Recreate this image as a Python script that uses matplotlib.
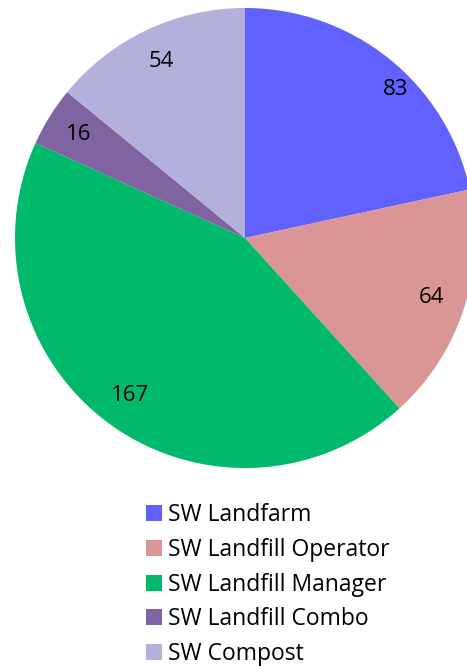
import matplotlib
matplotlib.use("Agg")
import matplotlib.pyplot as plt
import numpy as np

plt.rcParams['font.family'] = ['Open Sans', 'DejaVu Sans']

labels = ['SW Landfarm', 'SW Landfill Operator', 'SW Landfill Manager',
          'SW Landfill Combo', 'SW Compost']
values = [83, 64, 167, 16, 54]
colors = ['#6161FF', '#D99694', '#00B96B', '#8064A2', '#B3B0DB']

fig = plt.figure(figsize=(4.67, 6.66), dpi=100)
ax = fig.add_axes([15/467, 198/666, 460/467, 460/666])

wedges, texts, autotexts = ax.pie(
    values, colors=colors, startangle=90, counterclock=False,
    autopct=lambda p: f"{p * sum(values) / 100:.0f}", pctdistance=0.85,
    textprops={'fontsize': 16, 'color': 'black'},
    wedgeprops={'linewidth': 0})
for w in wedges:
    w.set_clip_on(False)

# Excel nudges the first label a little toward the edge
ang = np.deg2rad(44.6)
autotexts[0].set_position((0.92 * np.cos(ang), 0.92 * np.sin(ang)))

ax.set_xlim(-1, 1)
ax.set_ylim(-1, 1)
ax.set_aspect('equal')
ax.axis('off')

fig.legend(wedges, labels, loc='upper left', bbox_to_anchor=(146/467, 1 - 503/666),
           frameon=False, fontsize=16.5, handlelength=0.7, handleheight=0.7,
           handletextpad=0.25, labelspacing=0.47, borderpad=0, borderaxespad=0)

fig.savefig('out.png', dpi=100)
